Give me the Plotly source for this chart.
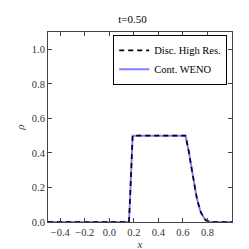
import plotly.graph_objects as go

x_vals = [-0.5, 0.0, 0.16, 0.168, 0.176, 0.184, 0.19, 0.3, 0.4, 0.5, 0.6, 0.62, 0.63, 0.64, 0.65, 0.66, 0.67, 0.68, 0.69, 0.70, 0.71, 0.72, 0.73, 0.74, 0.75, 0.76, 0.77, 0.78, 0.79, 0.80, 0.82, 0.85, 1.0]
rho_hr = [0.0, 0.0, 0.0, 0.12, 0.3, 0.45, 0.5, 0.5, 0.5, 0.5, 0.5, 0.5, 0.47, 0.44, 0.40, 0.355, 0.31, 0.27, 0.23, 0.19, 0.15, 0.12, 0.09, 0.068, 0.05, 0.035, 0.024, 0.015, 0.009, 0.005, 0.001, 0.0, 0.0]
rho_weno = [0.0, 0.0, 0.0, 0.12, 0.3, 0.45, 0.5, 0.5, 0.5, 0.5, 0.5, 0.5, 0.47, 0.44, 0.40, 0.355, 0.31, 0.27, 0.23, 0.19, 0.15, 0.12, 0.09, 0.068, 0.05, 0.035, 0.024, 0.015, 0.009, 0.005, 0.001, 0.0, 0.0]
x_ticks = [-0.4, -0.2, 0.0, 0.2, 0.4, 0.6, 0.8]
x_tick_text = ["\u22120.4", "\u22120.2", "0.0", "0.2", "0.4", "0.6", "0.8"]
y_ticks = [0.0, 0.2, 0.4, 0.6, 0.8, 1.0]
y_tick_text = ["0.0", "0.2", "0.4", "0.6", "0.8", "1.0"]

font = "Liberation Serif, DejaVu Serif, serif"

fig = go.Figure()
fig.add_trace(go.Scatter(x=x_vals, y=rho_weno, mode="lines", name="Cont. WENO",
                         legendrank=2,
                         line=dict(color="rgba(0,0,255,0.5)", width=2)))
fig.add_trace(go.Scatter(x=x_vals, y=rho_hr, mode="lines", name="Disc. High Res.",
                         legendrank=1,
                         line=dict(color="black", width=1.6, dash="5px,4px")))

axis_common = dict(showgrid=False, zeroline=False, showline=True, linecolor="#444",
                   linewidth=1, mirror="ticks", ticks="inside", ticklen=4,
                   tickcolor="#444", tickfont=dict(size=10.5, family=font, color="#333"))
fig.update_xaxes(range=[-0.5, 1.0], tickvals=x_ticks, ticktext=x_tick_text,
                 title=dict(text="<i>x</i>", font=dict(size=11, family=font), standoff=0),
                 **axis_common)
fig.update_yaxes(range=[0, 1.1], tickvals=y_ticks, ticktext=y_tick_text,
                 title=dict(text="<i>ρ</i>", font=dict(size=11, family=font), standoff=4),
                 **axis_common)
fig.update_layout(
    width=249, height=249,
    margin=dict(l=31, r=25, t=24, b=26),
    paper_bgcolor="white", plot_bgcolor="white",
    title=dict(text="t=0.50", x=0.5, xanchor="center", y=0.955, yanchor="middle",
               font=dict(size=11, family=font, color="black")),
    legend=dict(x=0.974, y=0.985, xanchor="right", yanchor="top",
                bordercolor="black", borderwidth=1, bgcolor="white",
                font=dict(size=10.5, family=font, color="black"),
                tracegroupgap=0, itemwidth=30),
    showlegend=True,
)
fig.write_html("out.html")
